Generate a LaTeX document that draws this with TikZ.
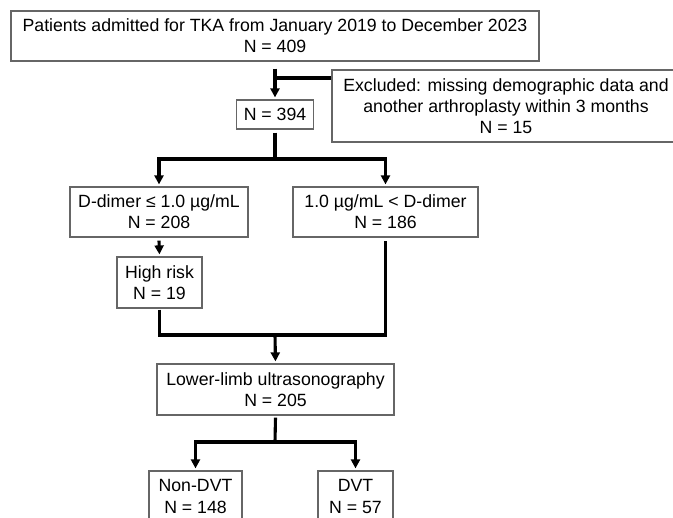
\documentclass[tikz,border=0pt]{standalone}
\usepackage{fontspec}
\setmainfont{Liberation Sans}
\usepackage{tikz}
\usetikzlibrary{arrows.meta, positioning}
\tikzstyle{box} = [draw=black!60, line width=1.2pt, inner sep=0pt, align=center, font=\fontsize{17.7}{21.3}\selectfont]
\tikzstyle{line} = [line width=3.1pt, black]
\tikzstyle{arrow} = [line, -{Triangle[length=9pt, width=9pt]}, shorten >=2pt]

\begin{document}
\begin{tikzpicture}[x=1pt, y=-1pt]
    \useasboundingbox (0,0) rectangle (673,518);
    \node[box, minimum width=528pt, minimum height=50pt] (admit) at (275, 36) {Patients admitted for TKA from January 2019 to December 2023\\N = 409};
    \node[box, minimum width=348pt, minimum height=72pt] (excl) at (506, 106) {Excluded: missing demographic data and\\another arthroplasty within 3 months\\N = 15};
    \node[box, minimum width=77pt, minimum height=29pt] (n394) at (275, 114.5) {N = 394};
    \node[box, minimum width=178pt, minimum height=50pt] (dimL) at (159, 212) {D-dimer ≤ 1.0 µg/mL\\N = 208};
    \node[box, minimum width=185pt, minimum height=50pt] (dimR) at (385.5, 212) {1.0 µg/mL < D-dimer\\N = 186};
    \node[box, minimum width=85pt, minimum height=51pt] (risk) at (159.5, 282.5) {High risk\\N = 19};
    \node[box, minimum width=237pt, minimum height=51pt] (llus) at (275.5, 389.5) {Lower-limb ultrasonography\\N = 205};
    \node[box, minimum width=93pt, minimum height=51pt] (nondvt) at (195.5, 496.5) {Non-DVT\\N = 148};
    \node[box, minimum width=75pt, minimum height=51pt] (dvt) at (355.5, 496.5) {DVT\\N = 57};

    % exclusion
    \coordinate (j1) at (275, 78);
    \draw[arrow] ([yshift=-7pt]admit.south) -- (n394.north);
    \draw[line] (excl.west |- j1) -- (j1);

    % split by D-dimer
    \coordinate (s1) at (275, 159);
    \draw[line] ([yshift=-3pt]n394.south) -- (s1);
    \draw[arrow] (s1) -| (dimL.north);
    \draw[arrow] (s1) -| (dimR.north);
    \draw[arrow] ([yshift=-3pt]dimL.south) -- (risk.north);

    % merge to ultrasonography
    \coordinate (m1) at (275, 335);
    \draw[line] ([yshift=-1pt]risk.south) |- (m1) -| ([yshift=-3pt]dimR.south);
    \draw[arrow] (m1) -- (llus.north);

    % outcome
    \coordinate (s2) at (275, 442);
    \draw[line] ([yshift=-2pt]llus.south) -- (s2);
    \draw[arrow] (s2) -| (nondvt.north);
    \draw[arrow] (s2) -| (dvt.north);
\end{tikzpicture}
\end{document}
